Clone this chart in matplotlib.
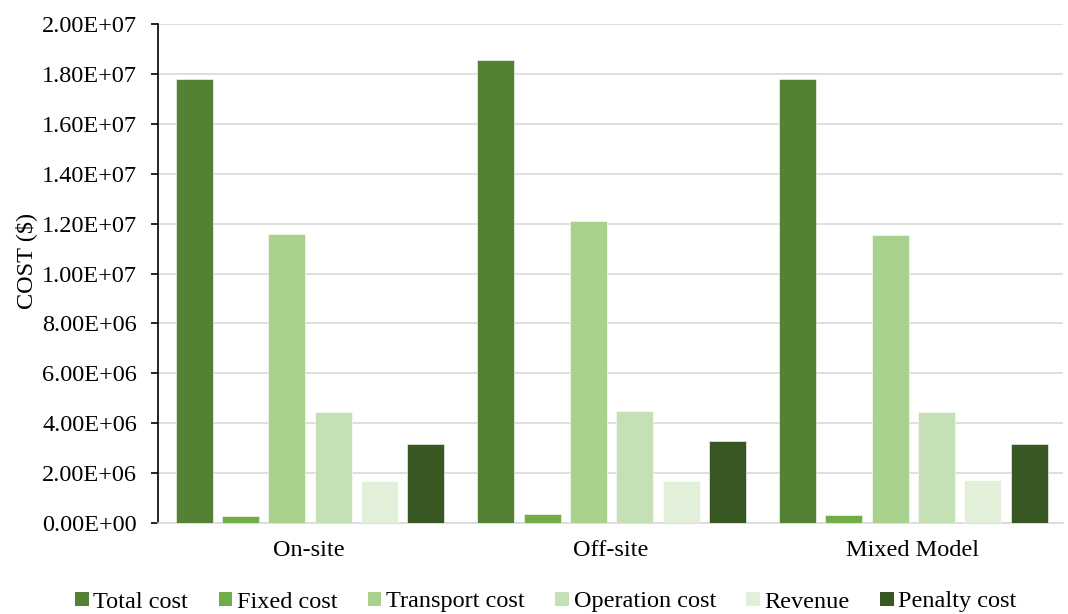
import matplotlib.pyplot as plt
import numpy as np
from matplotlib.patches import Patch

plt.rcParams['font.family'] = ['Liberation Serif', 'DejaVu Serif']

scenarios = ["On-site", "Off-site", "Mixed Model"]
series = ["Total cost", "Fixed cost", "Transport cost", "Operation cost", "Revenue", "Penalty cost"]
total_cost = [17.81e6, 18.56e6, 17.81e6]
fixed_cost = [0.30e6, 0.35e6, 0.31e6]
transport_cost = [11.57e6, 12.09e6, 11.56e6]
operation_cost = [4.44e6, 4.48e6, 4.45e6]
revenue = [1.70e6, 1.70e6, 1.71e6]
penalty_cost = [3.18e6, 3.30e6, 3.18e6]
colors = ["#548235", "#70AD47", "#A9D18E", "#C5E0B4", "#E2F0D9", "#385723"]
yticks = np.arange(0, 2.0e7 + 1, 2.0e6)

values = [total_cost, fixed_cost, transport_cost, operation_cost, revenue, penalty_cost]

FS = 17.5

fig = plt.figure(figsize=(10.68, 6.14), dpi=100)
ax = fig.add_axes([158 / 1068, 1 - 523 / 614, (1063 - 158) / 1068, (523 - 24) / 614])

x = np.arange(len(scenarios))
step = 0.1535
width = 0.1226
for i, (name, vals) in enumerate(zip(series, values)):
    offs = (i - 2.5) * step + 0.004
    ax.bar(x + offs, vals, width=width, color=colors[i], edgecolor="white",
           linewidth=0.4, label=name, zorder=3)

ax.set_xlim(-0.5, 2.5)
ax.set_ylim(0, 2.0e7)
ax.set_yticks(yticks)
ax.set_yticklabels([f"{v:.2E}" for v in yticks], fontsize=FS)
ax.set_xticks(x)
ax.set_xticklabels(scenarios, fontsize=FS)
ax.tick_params(axis="x", length=0, pad=12)
ax.tick_params(axis="y", length=5, width=1.2, direction="out", pad=10)
ax.set_ylabel("COST ($)", fontsize=FS)
ax.yaxis.set_label_coords(-0.134, 0.525)

ax.grid(axis="y", color="#D9D9D9", linewidth=1.2, zorder=0)
for s in ["top", "right"]:
    ax.spines[s].set_visible(False)
ax.spines["bottom"].set_color("#D9D9D9")
ax.spines["bottom"].set_linewidth(1.2)
ax.spines["left"].set_color("black")
ax.spines["left"].set_linewidth(1.2)

handles = [Patch(facecolor=c, edgecolor="none") for c in colors]
fig.legend(handles, series, loc="center", bbox_to_anchor=(546 / 1068, 1 - 602 / 614),
           ncol=6, frameon=False, fontsize=FS, handlelength=0.55, handleheight=0.55,
           handletextpad=0.2, columnspacing=1.25, borderaxespad=0, borderpad=0)

fig.savefig("out.png", dpi=100)
